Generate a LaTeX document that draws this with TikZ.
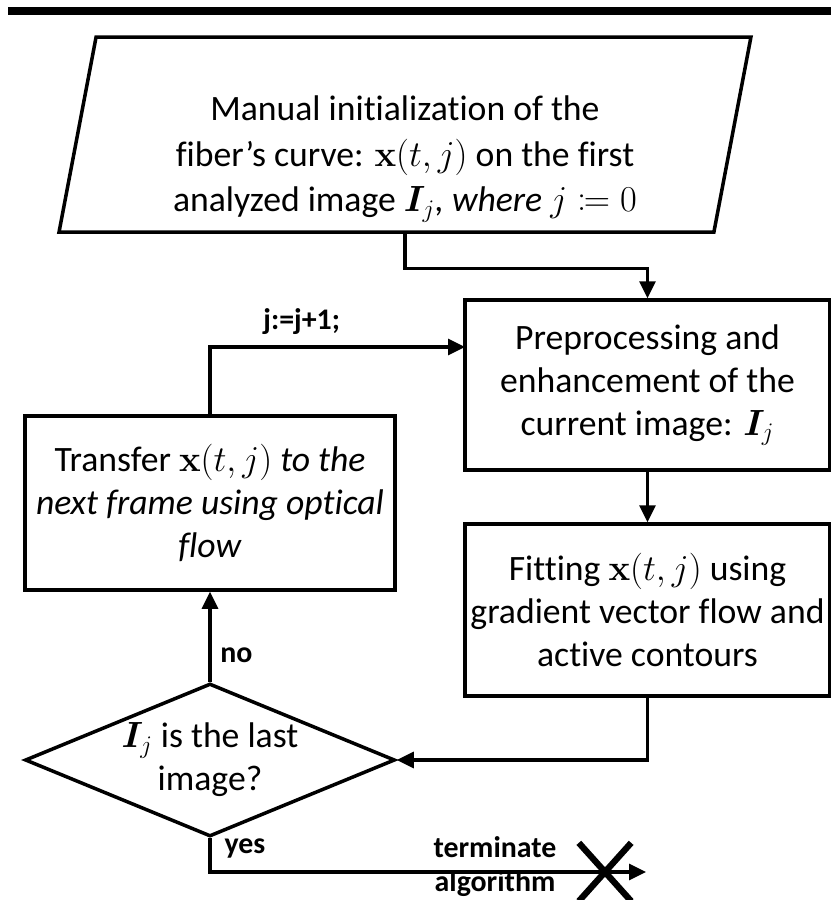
\documentclass[tikz,border=0pt]{standalone}
\usepackage[no-math]{fontspec}
\setmainfont{Carlito}[Ligatures=NoCommon]
\usepackage{mathtools}
\usepackage{bm}
\usetikzlibrary{shapes.geometric,shapes.misc,arrows.meta}

\tikzset{
  boks/.style={draw, line width=2pt, align=center, inner sep=0pt,
    font=\fontsize{20.3}{24.5}\selectfont},
  pil/.style={line width=1.8pt, -{Triangle[length=0.34cm,width=0.32cm]}},
  etiket/.style={font=\fontsize{17}{19}\selectfont\bfseries, inner sep=1pt},
}

\begin{document}
\begin{tikzpicture}
  \useasboundingbox (0,0) rectangle (16.62,-18);
  %top-streg
  	\draw[line width=4.5pt] (0.16,-0.22) -- (16.62,-0.22);

  %start (parallelogram), teksten lidt under midten
  	\node[boks, trapezium, trapezium left angle=81, trapezium right angle=99,
  	  trapezium stretches=true, minimum width=13.88cm, minimum height=3.9cm,
  	  font=\fontsize{20.3}{26}\selectfont]
  	  (init) at (8.10,-2.69)
  	  {\rule{0pt}{42pt}Manual initialization of the\\
  	   fiber’s curve: $\mathbf{x}(t,j)$ on the first\\
  	   analyzed image $\bm{I}_j$\textit{, where} $j\coloneqq 0$};

  %bokse
  	\node[boks, minimum width=7.3cm, minimum height=3.4cm] (pre) at (12.95,-7.70)
  	  {Preprocessing and\\ enhancement of the\\ current image: $\bm{I}_j$};
  	\node[boks, minimum width=7.3cm, minimum height=3.44cm] (fit) at (12.95,-12.2)
  	  {Fitting $\mathbf{x}(t,j)$ using\\ gradient vector flow and\\ active contours};
  	\node[boks, minimum width=7.4cm, minimum height=3.48cm] (trans) at (4.2,-10.06)
  	  {Transfer $\mathbf{x}(t,j)$ \textit{to the}\\ \textit{next frame using optical}\\ \textit{flow}};

  %beslutning
  	\node[boks, diamond, aspect=2.4, minimum width=7.4cm, minimum height=3.06cm,
  	  inner sep=-3pt] (dec) at (4.2,-15.2) {$\bm{I}_j$ is the last\\ image?};

  %pile
  	\coordinate (ind) at (9.3,-6.94);
  	\coordinate (slut) at (12.92,-17.44);
  	\draw[pil] (init.south) -- ++(0,-0.7) -| (pre.north);
  	\draw[pil] (pre.south) -- (fit.north);
  	\draw[pil] (fit.south) |- (dec.east);
  	\draw[pil] (dec.north) -- node[etiket, right, pos=0.3, xshift=4pt] {no} (trans.south);
  	\draw[pil] (trans.north) |- node[etiket, above, pos=0.68, yshift=5pt] {j:=j+1;} (ind);
  	\draw[pil] (dec.south) |- (slut);

  %stop
  	\node[etiket] (ja) at (4.9,-16.96) {yes};
  	\node[etiket] (term) at (9.9,-16.94) {terminate};
  	\node[etiket] (algo) at (9.9,-17.68) {algorithm};
  	\node[draw, cross out, line width=3.6pt, minimum width=0.92cm,
  	  minimum height=1.04cm, inner sep=0pt] (kryds) at (12.1,-17.44) {};
\end{tikzpicture}
\end{document}
